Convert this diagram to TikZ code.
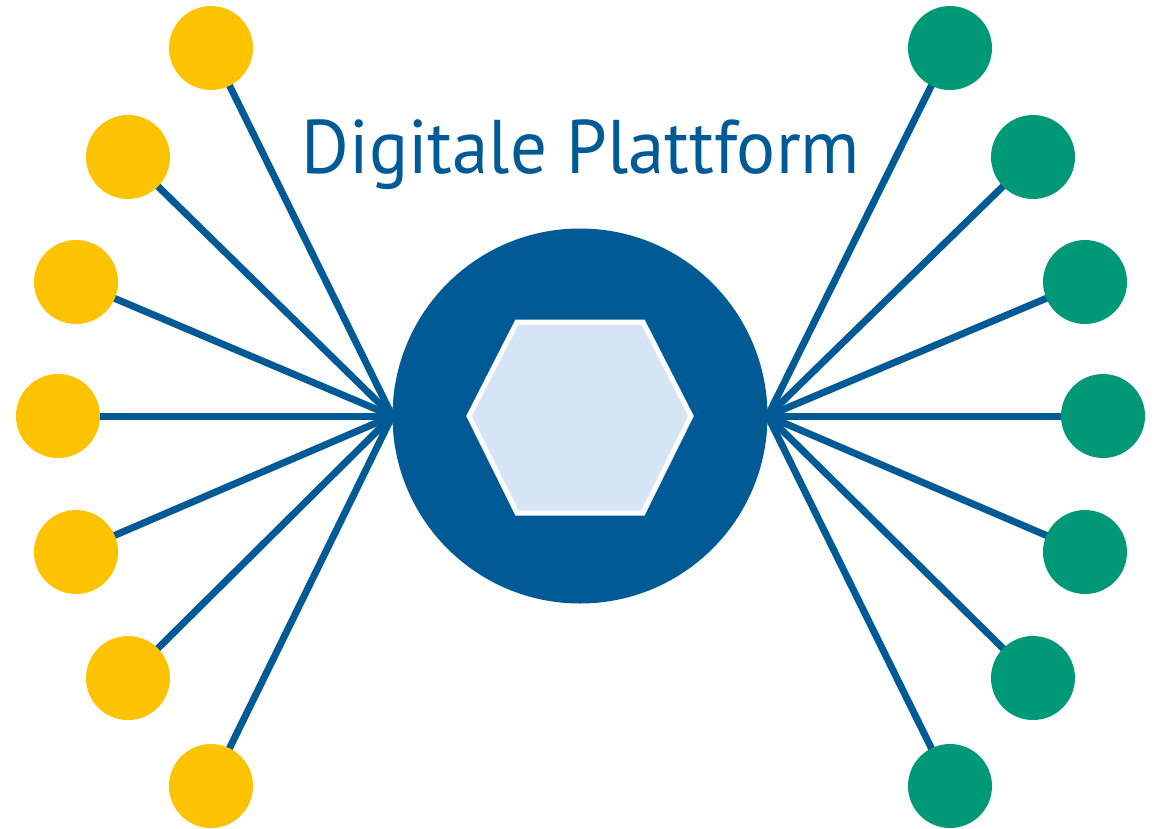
\documentclass[tikz,border=0pt]{standalone}
\usepackage{fontspec}
\setmainfont{PT Sans}
\usetikzlibrary{backgrounds}
\definecolor{platblue}{RGB}{0,90,150}
\definecolor{platyellow}{RGB}{253,195,0}
\definecolor{platgreen}{RGB}{0,153,119}
\definecolor{hexfill}{RGB}{213,229,246}
\tikzset{
    dot/.style={circle,fill,minimum size=84pt,inner sep=0pt,outer sep=0pt},
    spoke/.style={draw=platblue,line width=7pt},
    every node/.append style={text=platblue}
}

\begin{document}
\begin{tikzpicture}[x=1pt,y=-1pt]
    \useasboundingbox (0,0) rectangle (1157,828);
    \node[circle,fill=platblue,minimum size=375pt,inner sep=0pt] (hub) at (580,416) {};
    \draw[fill=hexfill,draw=white,line width=5pt,line join=miter]
        (469,416) -- (517,322) -- (643,322) -- (691,416) -- (643,513) -- (517,513) -- cycle;
    \node[anchor=base,font=\fontsize{76}{90}\selectfont] (title) at (581,173) {\scalebox{0.96}[1]{Digitale Plattform}};
    % Teilnehmer links und rechts
    \foreach \i/\x/\y in {1/211/48,2/128/157,3/76/282,4/58/416,5/76/552,6/128/678,7/211/786}{
        \node[dot,fill=platyellow] (y\i) at (\x,\y) {};
        \node[dot,fill=platgreen] (g\i) at (1161-\x,\y) {};
    }
    \begin{scope}[on background layer]
        \foreach \i in {1,...,7}{
            \draw[spoke] (hub.west) -- (y\i.center);
            \draw[spoke] (hub.east) -- (g\i.center);
        }
    \end{scope}
\end{tikzpicture}
\end{document}
